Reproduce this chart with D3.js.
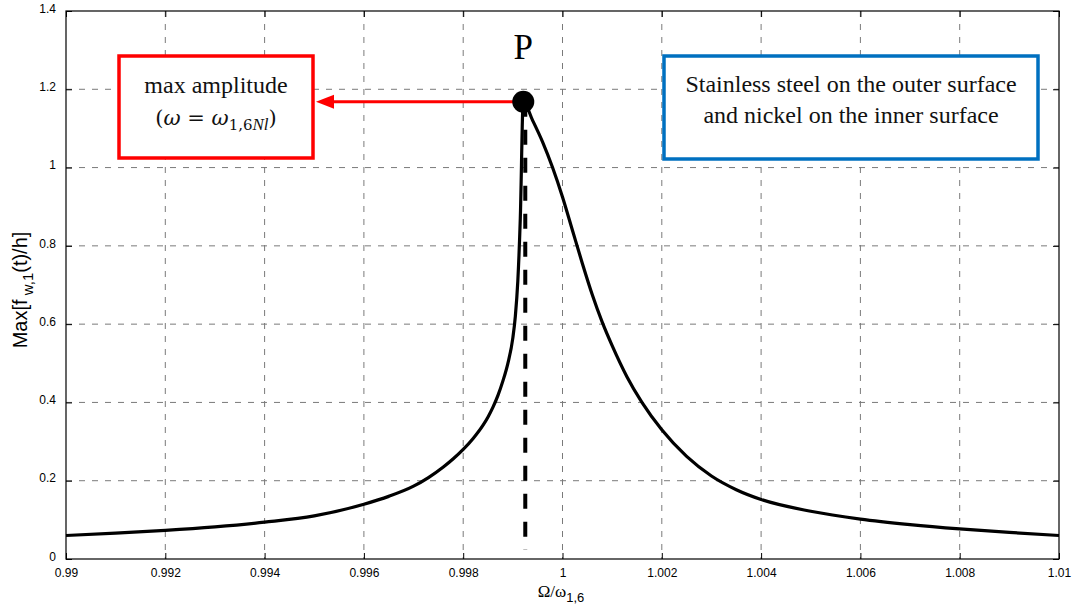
<!DOCTYPE html>
<html lang="en">
<head>
	<meta charset="UTF-8">
	<title>max amplitude curve</title>
	<style>
		* {
			margin: 0;
			padding: 0;
		}
		body {
			background: #fff;
		}
		.svg {
			display: block;
		}
	</style>
</head>
<body>
	<script src="https://cdn.jsdelivr.net/npm/d3@7"></script>
	<script>
		// Ω/ω1,6 values and the max amplitude
		var omega = [0.99, 0.991, 0.992, 0.993, 0.994, 0.995, 0.996, 0.9965, 0.997, 0.9973, 0.9976, 0.9978, 0.998, 0.9982, 0.9984, 0.9985, 0.9986, 0.9987, 0.9988, 0.9989,
			0.999, 0.99905, 0.9991, 0.99915, 0.99921,
			0.9994, 0.9996, 0.9998, 1.0, 1.0002, 1.0004, 1.0006, 1.0008, 1.001, 1.0013, 1.0016, 1.002, 1.0025, 1.003, 1.0035, 1.004,
			1.005, 1.006, 1.007, 1.008, 1.009, 1.01];
		var amplitude = [0.06, 0.066, 0.073, 0.082, 0.094, 0.11, 0.14, 0.16, 0.186, 0.208, 0.235, 0.256, 0.28, 0.308, 0.342, 0.363, 0.388, 0.418, 0.455, 0.50,
			0.565, 0.62, 0.71, 0.87, 1.168,
			1.12, 1.065, 1.0, 0.925, 0.84, 0.755, 0.675, 0.605, 0.545, 0.465, 0.40, 0.33, 0.262, 0.212, 0.177, 0.152,
			0.122, 0.102, 0.088, 0.077, 0.068, 0.06];

		var xTicks = [0.99, 0.992, 0.994, 0.996, 0.998, 1, 1.002, 1.004, 1.006, 1.008, 1.01];
		var yTicks = [0, 0.2, 0.4, 0.6, 0.8, 1, 1.2, 1.4];

		// peak P
		var peakIndex = amplitude.indexOf(d3.max(amplitude));

		var contentWidth = 1074, contentHeight = 612;
		var padding = {
			top: 11,
			bottom: 53,
			left: 66,
			right: 15
		};
		var width = contentWidth - padding.left - padding.right;
		var height = contentHeight - padding.top - padding.bottom;

		var svg = d3.select('body').append('svg').attr('width', contentWidth).attr('height', contentHeight).classed('svg', true);

		var xScale = d3.scaleLinear().domain([0.99, 1.01]).range([0, width]);
		var yScale = d3.scaleLinear().domain([0, 1.4]).range([height, 0]);

		var box = svg.append('g').attr('transform', 'translate(' + padding.left + ',' + padding.top + ')');

		// 网格
		box.append('g')
			.selectAll('line')
			.data(xTicks.slice(1, -1))
			.enter()
			.append('line')
			.attr('x1', function (d) { return xScale(d); })
			.attr('x2', function (d) { return xScale(d); })
			.attr('y1', 0)
			.attr('y2', height)
			.attr('stroke', '#7a7a7a')
			.attr('stroke-dasharray', '6,7');

		box.append('g')
			.selectAll('line')
			.data(yTicks.slice(1, -1))
			.enter()
			.append('line')
			.attr('y1', function (d) { return yScale(d); })
			.attr('y2', function (d) { return yScale(d); })
			.attr('x1', 0)
			.attr('x2', width)
			.attr('stroke', '#7a7a7a')
			.attr('stroke-dasharray', '6,7');

		// x轴, ticks pointing inwards
		var xAxis = box.append('g')
			.attr('transform', 'translate(0,' + height + ')')
			.call(d3.axisBottom(xScale).tickValues(xTicks).tickSizeInner(-6).tickSizeOuter(0).tickPadding(9).tickFormat(d3.format('')));
		box.append('g')
			.call(d3.axisTop(xScale).tickValues(xTicks).tickSizeInner(-6).tickSizeOuter(0).tickFormat(''));

		// y轴
		var yAxis = box.append('g')
			.call(d3.axisLeft(yScale).tickValues(yTicks).tickSizeInner(-6).tickSizeOuter(0).tickPadding(10).tickFormat(d3.format('')));
		box.append('g')
			.attr('transform', 'translate(' + width + ',0)')
			.call(d3.axisRight(yScale).tickValues(yTicks).tickSizeInner(-6).tickSizeOuter(0).tickFormat(''));

		box.selectAll('.domain').remove();
		box.selectAll('.tick line').attr('stroke', '#000');
		box.selectAll('.tick text')
			.attr('fill', '#000')
			.style('font-family', 'Liberation Sans, Arial, sans-serif')
			.style('font-size', '12px');
		yAxis.selectAll('.tick text').attr('dy', '0.1em');

		// frame
		box.append('rect')
			.attr('width', width)
			.attr('height', height)
			.attr('fill', 'none')
			.attr('stroke', '#000')
			.attr('stroke-width', 1.2);

		// curve
		var line = d3.line()
			.x(function (d, i) { return xScale(omega[i]); })
			.y(function (d) { return yScale(d); })
			.curve(d3.curveMonotoneX);

		box.append('path')
			.datum(amplitude)
			.attr('d', line)
			.attr('fill', 'none')
			.attr('stroke', '#000')
			.attr('stroke-width', 3.2)
			.attr('stroke-linejoin', 'round');

		var px = xScale(omega[peakIndex]);
		var py = yScale(amplitude[peakIndex]);

		// dashed drop line under P
		box.append('line')
			.attr('x1', px + 2)
			.attr('x2', px + 2)
			.attr('y1', py)
			.attr('y2', yScale(0.023))
			.attr('stroke', '#000')
			.attr('stroke-width', 4)
			.attr('stroke-dasharray', '15,13');

		// red arrow to the left box
		box.append('line')
			.attr('x1', px)
			.attr('x2', 262)
			.attr('y1', py)
			.attr('y2', py)
			.attr('stroke', '#ff0000')
			.attr('stroke-width', 3);
		box.append('path')
			.attr('d', 'M250,' + py + 'L268,' + (py - 7) + 'L268,' + (py + 7) + 'Z')
			.attr('fill', '#ff0000');

		box.append('circle')
			.attr('cx', px)
			.attr('cy', py)
			.attr('r', 11)
			.attr('fill', '#000');

		box.append('text')
			.attr('x', px)
			.attr('y', 48)
			.attr('text-anchor', 'middle')
			.style('font-family', 'Liberation Serif, Times New Roman, serif')
			.style('font-size', '35px')
			.text('P');

		// red box
		svg.append('rect')
			.attr('x', 119)
			.attr('y', 56)
			.attr('width', 194)
			.attr('height', 102)
			.attr('fill', '#fff')
			.attr('stroke', '#ff0000')
			.attr('stroke-width', 3.5);

		svg.append('text')
			.attr('x', 216)
			.attr('y', 93)
			.attr('text-anchor', 'middle')
			.style('font-family', 'Liberation Serif, Times New Roman, serif')
			.style('font-size', '24px')
			.attr('fill', '#111')
			.text('max amplitude');

		var eq = svg.append('text')
			.attr('x', 216)
			.attr('y', 125)
			.attr('text-anchor', 'middle')
			.style('font-family', 'DejaVu Serif, Liberation Serif, serif')
			.style('font-size', '21px')
			.attr('fill', '#111');
		eq.append('tspan').text('(');
		eq.append('tspan').style('font-style', 'italic').text('ω');
		eq.append('tspan').text(' = ');
		eq.append('tspan').style('font-style', 'italic').text('ω');
		eq.append('tspan').attr('dy', 5).style('font-size', '15px').text('1,6');
		eq.append('tspan').style('font-size', '17px').style('font-family', 'Liberation Serif, serif').style('font-style', 'italic').text('Nl');
		eq.append('tspan').attr('dy', -5).text(')');

		// blue box
		svg.append('rect')
			.attr('x', 664)
			.attr('y', 56)
			.attr('width', 374)
			.attr('height', 103)
			.attr('fill', '#fff')
			.attr('stroke', '#0070c0')
			.attr('stroke-width', 3.5);

		svg.append('text')
			.attr('x', 851)
			.attr('y', 92)
			.attr('text-anchor', 'middle')
			.style('font-family', 'Liberation Serif, Times New Roman, serif')
			.style('font-size', '24px')
			.attr('fill', '#111')
			.text('Stainless steel on the outer surface');
		svg.append('text')
			.attr('x', 851)
			.attr('y', 123)
			.attr('text-anchor', 'middle')
			.style('font-family', 'Liberation Serif, Times New Roman, serif')
			.style('font-size', '24px')
			.attr('fill', '#111')
			.text('and nickel on the inner surface');

		// axis titles
		var xt = svg.append('text')
			.attr('x', 561)
			.attr('y', 597)
			.attr('text-anchor', 'middle');
		xt.append('tspan')
			.style('font-family', 'Liberation Serif, Times New Roman, serif')
			.style('font-size', '17px')
			.text('Ω/ω');
		xt.append('tspan')
			.attr('dy', 5)
			.style('font-family', 'Liberation Sans, Arial, sans-serif')
			.style('font-size', '13px')
			.text('1,6');

		var yt = svg.append('text')
			.attr('transform', 'translate(27,290) rotate(-90)')
			.attr('text-anchor', 'middle')
			.style('font-family', 'Liberation Sans, Arial, sans-serif')
			.style('font-size', '20px');
		yt.append('tspan').text('Max[f');
		yt.append('tspan').attr('dy', 6).style('font-size', '15px').text(' w,1');
		yt.append('tspan').attr('dy', -6).text('(t)/h]');
	</script>
</body>
</html>
